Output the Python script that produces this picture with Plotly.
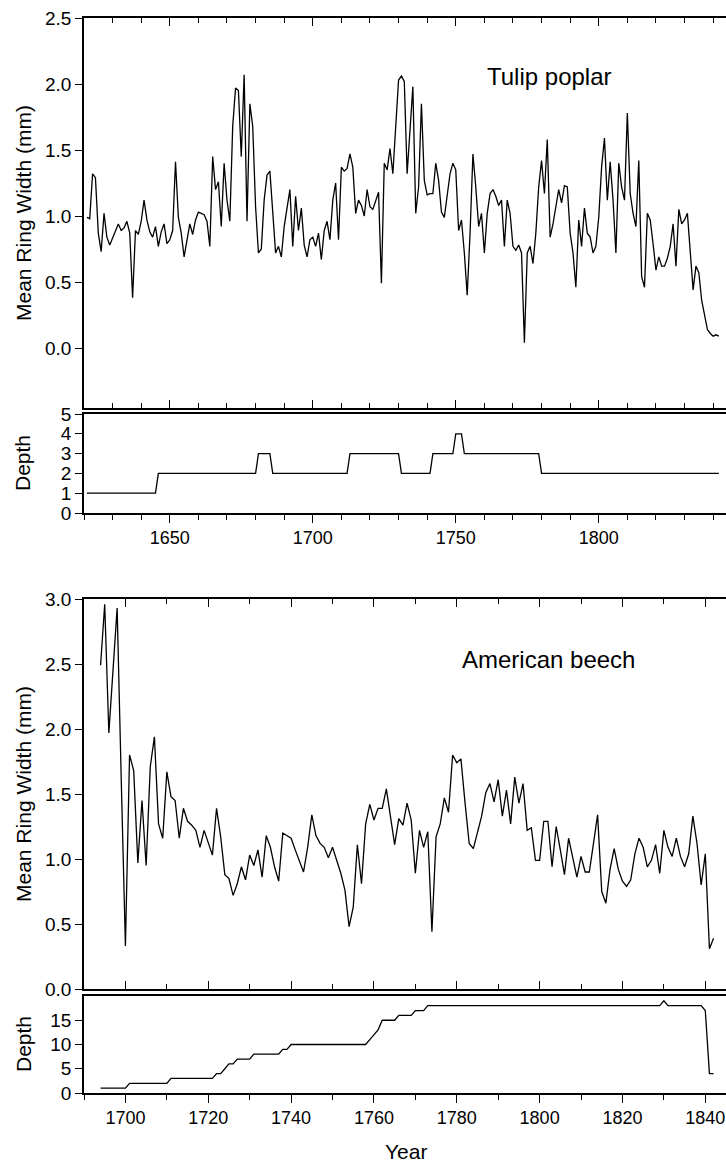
import plotly.graph_objects as go

# ---------------- data ----------------
tulip_years = list(range(1621, 1843))
tulip_width = [
    0.99, 0.98, 1.32, 1.29, 0.87, 0.73, 1.02, 0.84, 0.78, 0.83,   # 1621-1630
    0.89, 0.94, 0.89, 0.91, 0.96, 0.87, 0.38, 0.89, 0.86, 0.96,   # 1631-1640
    1.12, 0.97, 0.88, 0.84, 0.92, 0.77, 0.88, 0.94, 0.79, 0.82,   # 1641-1650
    0.89, 1.41, 0.99, 0.87, 0.69, 0.82, 0.94, 0.86, 0.97, 1.03,   # 1651-1660
    1.02, 1.01, 0.96, 0.77, 1.45, 1.20, 1.26, 0.92, 1.40, 1.12,   # 1661-1670
    0.96, 1.68, 1.97, 1.95, 1.45, 2.07, 0.96, 1.85, 1.68, 1.07,   # 1671-1680
    0.72, 0.75, 1.12, 1.31, 1.34, 0.99, 0.72, 0.77, 0.69, 0.92,   # 1681-1690
    1.07, 1.20, 0.77, 1.15, 0.89, 1.06, 0.78, 0.69, 0.82, 0.84,   # 1691-1700
    0.77, 0.87, 0.67, 0.89, 0.96, 0.82, 1.12, 1.25, 0.82, 1.37,   # 1701-1710
    1.34, 1.36, 1.47, 1.37, 1.02, 1.12, 1.08, 1.00, 1.20, 1.07,   # 1711-1720
    1.05, 1.12, 1.18, 0.49, 1.40, 1.35, 1.51, 1.32, 1.68, 2.03,   # 1721-1730
    2.06, 2.02, 1.32, 1.68, 1.98, 1.02, 1.22, 1.85, 1.27, 1.16,   # 1731-1740
    1.17, 1.17, 1.40, 1.27, 1.03, 0.99, 1.15, 1.32, 1.40, 1.35,   # 1741-1750
    0.89, 0.97, 0.72, 0.40, 0.87, 1.47, 1.22, 0.92, 1.02, 0.72,   # 1751-1760
    1.02, 1.17, 1.20, 1.15, 1.08, 1.12, 0.77, 1.12, 1.02, 0.77,   # 1761-1770
    0.74, 0.78, 0.72, 0.04, 0.72, 0.77, 0.64, 0.87, 1.22, 1.42,   # 1771-1780
    1.17, 1.58, 0.84, 0.94, 1.07, 1.20, 1.10, 1.23, 1.22, 0.87,   # 1781-1790
    0.72, 0.46, 0.97, 0.77, 1.06, 0.87, 0.84, 0.72, 0.77, 0.99,   # 1791-1800
    1.37, 1.59, 1.12, 1.41, 1.12, 0.72, 1.40, 1.22, 1.12, 1.78,   # 1801-1810
    1.17, 1.02, 0.92, 1.42, 0.54, 0.46, 1.02, 0.97, 0.79, 0.59,   # 1811-1820
    0.69, 0.62, 0.62, 0.68, 0.77, 0.94, 0.62, 1.05, 0.94, 0.97,   # 1821-1830
    1.02, 0.72, 0.44, 0.62, 0.57, 0.36, 0.24, 0.14, 0.11, 0.09,   # 1831-1840
    0.10, 0.09,                                                   # 1841-1842
]
tulip_depth = [
    1, 1, 1, 1, 1, 1, 1, 1, 1, 1,   # 1621-1630
    1, 1, 1, 1, 1, 1, 1, 1, 1, 1,   # 1631-1640
    1, 1, 1, 1, 1, 2, 2, 2, 2, 2,   # 1641-1650
    2, 2, 2, 2, 2, 2, 2, 2, 2, 2,   # 1651-1660
    2, 2, 2, 2, 2, 2, 2, 2, 2, 2,   # 1661-1670
    2, 2, 2, 2, 2, 2, 2, 2, 2, 2,   # 1671-1680
    3, 3, 3, 3, 3, 2, 2, 2, 2, 2,   # 1681-1690
    2, 2, 2, 2, 2, 2, 2, 2, 2, 2,   # 1691-1700
    2, 2, 2, 2, 2, 2, 2, 2, 2, 2,   # 1701-1710
    2, 2, 3, 3, 3, 3, 3, 3, 3, 3,   # 1711-1720
    3, 3, 3, 3, 3, 3, 3, 3, 3, 3,   # 1721-1730
    2, 2, 2, 2, 2, 2, 2, 2, 2, 2,   # 1731-1740
    2, 3, 3, 3, 3, 3, 3, 3, 3, 4,   # 1741-1750
    4, 4, 3, 3, 3, 3, 3, 3, 3, 3,   # 1751-1760
    3, 3, 3, 3, 3, 3, 3, 3, 3, 3,   # 1761-1770
    3, 3, 3, 3, 3, 3, 3, 3, 3, 2,   # 1771-1780
    2, 2, 2, 2, 2, 2, 2, 2, 2, 2,   # 1781-1790
    2, 2, 2, 2, 2, 2, 2, 2, 2, 2,   # 1791-1800
    2, 2, 2, 2, 2, 2, 2, 2, 2, 2,   # 1801-1810
    2, 2, 2, 2, 2, 2, 2, 2, 2, 2,   # 1811-1820
    2, 2, 2, 2, 2, 2, 2, 2, 2, 2,   # 1821-1830
    2, 2, 2, 2, 2, 2, 2, 2, 2, 2,   # 1831-1840
    2, 2,                           # 1841-1842
]

beech_years = list(range(1694, 1843))
beech_width = [
    2.49, 2.96, 1.97, 2.45, 2.93, 1.60, 0.33,                     # 1694-1700
    1.80, 1.68, 0.97, 1.45, 0.95, 1.71, 1.94, 1.27, 1.16, 1.67,   # 1701-1710
    1.48, 1.45, 1.16, 1.39, 1.29, 1.26, 1.22, 1.09, 1.22, 1.12,   # 1711-1720
    1.03, 1.39, 1.17, 0.88, 0.85, 0.72, 0.81, 0.94, 0.84, 1.03,   # 1721-1730
    0.95, 1.07, 0.86, 1.18, 1.09, 0.94, 0.83, 1.20, 1.18, 1.16,   # 1731-1740
    1.07, 0.99, 0.90, 1.09, 1.34, 1.18, 1.12, 1.09, 1.01, 1.09,   # 1741-1750
    0.99, 0.89, 0.76, 0.48, 0.63, 1.11, 0.81, 1.27, 1.42, 1.30,   # 1751-1760
    1.39, 1.39, 1.54, 1.33, 1.11, 1.31, 1.26, 1.43, 1.30, 0.89,   # 1761-1770
    1.22, 1.09, 1.21, 0.44, 1.17, 1.27, 1.47, 1.36, 1.80, 1.74,   # 1771-1780
    1.77, 1.43, 1.12, 1.08, 1.20, 1.33, 1.51, 1.58, 1.44, 1.61,   # 1781-1790
    1.33, 1.53, 1.27, 1.63, 1.43, 1.58, 1.22, 1.24, 0.99, 0.99,   # 1791-1800
    1.29, 1.29, 0.94, 1.25, 1.07, 0.88, 1.16, 1.02, 0.86, 1.02,   # 1801-1810
    0.90, 0.90, 1.12, 1.34, 0.75, 0.66, 0.92, 1.08, 0.92, 0.83,   # 1811-1820
    0.79, 0.84, 1.04, 1.16, 1.09, 0.94, 0.99, 1.11, 0.89, 1.22,   # 1821-1830
    1.09, 1.02, 1.16, 1.02, 0.94, 1.04, 1.33, 1.12, 0.80, 1.04,   # 1831-1840
    0.31, 0.39,                                                   # 1841-1842
]
beech_depth = [
    1, 1, 1, 1, 1, 1, 1,                # 1694-1700
    2, 2, 2, 2, 2, 2, 2, 2, 2, 2,       # 1701-1710
    3, 3, 3, 3, 3, 3, 3, 3, 3, 3,       # 1711-1720
    3, 4, 4, 5, 6, 6, 7, 7, 7, 7,       # 1721-1730
    8, 8, 8, 8, 8, 8, 8, 9, 9, 10,      # 1731-1740
    10, 10, 10, 10, 10, 10, 10, 10, 10, 10,  # 1741-1750
    10, 10, 10, 10, 10, 10, 10, 10, 11, 12,  # 1751-1760
    13, 15, 15, 15, 15, 16, 16, 16, 16, 17,  # 1761-1770
    17, 17, 18, 18, 18, 18, 18, 18, 18, 18,  # 1771-1780
    18, 18, 18, 18, 18, 18, 18, 18, 18, 18,  # 1781-1790
    18, 18, 18, 18, 18, 18, 18, 18, 18, 18,  # 1791-1800
    18, 18, 18, 18, 18, 18, 18, 18, 18, 18,  # 1801-1810
    18, 18, 18, 18, 18, 18, 18, 18, 18, 18,  # 1811-1820
    18, 18, 18, 18, 18, 18, 18, 18, 18, 19,  # 1821-1830
    18, 18, 18, 18, 18, 18, 18, 18, 18, 17,  # 1831-1840
    4, 4,                                    # 1841-1842
]

# ---------------- layout helpers ----------------
W, H, L = 726, 1167, 84
PW = W - L
FONT = "Arial, 'Liberation Sans', sans-serif"


def dom(top, bottom):
    return [1 - bottom / H, 1 - top / H]


def px_x(px):
    return (px - L) / PW


def px_y(py):
    return 1 - py / H


LINE = dict(color="black", width=1.3)
YTICKFONT = dict(family=FONT, size=19, color="black")
XTICKFONT = dict(family=FONT, size=18, color="black")

fig = go.Figure()
fig.add_trace(go.Scatter(x=tulip_years, y=tulip_width, mode="lines", line=LINE,
                         xaxis="x", yaxis="y", showlegend=False, hoverinfo="skip"))
fig.add_trace(go.Scatter(x=tulip_years, y=tulip_depth, mode="lines", line=LINE,
                         xaxis="x2", yaxis="y2", showlegend=False, hoverinfo="skip"))
fig.add_trace(go.Scatter(x=beech_years, y=beech_width, mode="lines", line=LINE,
                         xaxis="x3", yaxis="y3", showlegend=False, hoverinfo="skip"))
fig.add_trace(go.Scatter(x=beech_years, y=beech_depth, mode="lines", line=LINE,
                         xaxis="x4", yaxis="y4", showlegend=False, hoverinfo="skip"))


def xax(rng, anchor, tick0, dtick, labels, ticks, mirror, showline=True, overlaying=None):
    d = dict(range=rng, anchor=anchor, tick0=tick0, dtick=dtick, showticklabels=labels,
             ticks=ticks, ticklen=8, tickwidth=1.3, tickcolor="black",
             showline=showline, linecolor="black", linewidth=1.5, mirror=mirror,
             showgrid=False, zeroline=False, automargin=False, tickfont=XTICKFONT,
             ticklabeloverflow="allow",
             minor=dict(dtick=10, tick0=tick0, ticks=ticks, ticklen=5, tickwidth=1.1,
                        tickcolor="black", showgrid=False))
    if overlaying:
        d["overlaying"] = overlaying
    return d


def yax(rng, domain, tickvals, fmt=None):
    d = dict(range=rng, domain=domain, tickvals=tickvals, ticks="outside", ticklen=7,
             tickwidth=1.3, tickcolor="black", showline=True, linecolor="black",
             linewidth=1.5, showgrid=False, zeroline=False, automargin=False,
             tickfont=YTICKFONT)
    if fmt:
        d["tickformat"] = fmt
    return d


T_RANGE = [1620, 1844.5]
B_RANGE = [1690, 1845.0]

fig.update_layout(
    width=W, height=H,
    margin=dict(l=L, r=0, t=0, b=0),
    paper_bgcolor="white", plot_bgcolor="white",
    showlegend=False,
    xaxis=xax(T_RANGE, "y", 1650, 50, False, "inside", "ticks"),
    xaxis2=xax(T_RANGE, "y2", 1650, 50, True, "outside", True),
    xaxis5=xax(T_RANGE, "y2", 1650, 50, False, "inside", "ticks", showline=False, overlaying="x2"),
    xaxis3=xax(B_RANGE, "y3", 1700, 20, False, "inside", "ticks"),
    xaxis4=xax(B_RANGE, "y4", 1700, 20, True, "outside", True),
    xaxis6=xax(B_RANGE, "y4", 1700, 20, False, "inside", "ticks", showline=False, overlaying="x4"),
    yaxis=yax([-0.4545, 2.5], dom(18, 408), [0, 0.5, 1, 1.5, 2, 2.5], ".1f"),
    yaxis2=yax([0, 5], dom(414, 513), [0, 1, 2, 3, 4, 5]),
    yaxis3=yax([0, 3], dom(599, 989), [0, 0.5, 1, 1.5, 2, 2.5, 3], ".1f"),
    yaxis4=yax([0, 20], dom(996, 1093), [0, 5, 10, 15]),
)

ann_font = dict(family=FONT, size=21, color="black")
annotations = [
    dict(text="Mean Ring Width (mm)", x=px_x(23), y=px_y(213), textangle=-90, font=ann_font),
    dict(text="Depth", x=px_x(23), y=px_y(463), textangle=-90, font=ann_font),
    dict(text="Mean Ring Width (mm)", x=px_x(23), y=px_y(794), textangle=-90, font=ann_font),
    dict(text="Depth", x=px_x(23), y=px_y(1044), textangle=-90, font=ann_font),
    dict(text="Tulip poplar", x=px_x(549), y=px_y(77), font=dict(family=FONT, size=24, color="black")),
    dict(text="American beech", x=px_x(548), y=px_y(659), font=dict(family=FONT, size=24, color="black")),
    dict(text="Year", x=px_x(406), y=px_y(1151), font=ann_font),
]
for a in annotations:
    a.update(xref="paper", yref="paper", showarrow=False, xanchor="center", yanchor="middle")
fig.update_layout(annotations=annotations)

fig.write_html("out.html", config={"displayModeBar": False},
               post_script="document.body.style.margin='0';")
